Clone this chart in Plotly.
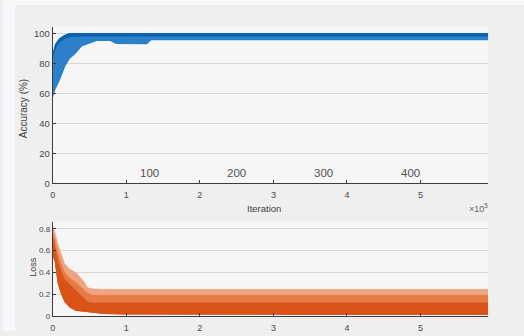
import plotly.graph_objects as go

W, H = 524, 336

# ---------------- data ----------------
# Accuracy envelopes (percent) vs iteration
acc_iter = [0, 4000, 9000, 17000, 23000, 30000, 40000, 50000, 60000, 78000, 86000,
            128000, 134000, 200000, 300000, 400000, 500000, 592000]
acc_upper = [86, 93, 96.5, 99, 100, 100, 100, 100, 100, 100, 100,
             100, 100, 100, 100, 100, 100, 100]
acc_lower = [57, 63, 68, 78, 83, 86, 91.5, 93.5, 95, 95, 93,
             92.8, 95.5, 95.5, 95.5, 95.5, 95.5, 95.5]
acc_core_lower = [84, 90, 94, 96.5, 97.5, 97.8, 98, 98, 98, 98, 98,
                  98, 98, 98, 98, 98, 98, 98]

# Loss envelopes vs iteration
loss_iter = [0, 2700, 6800, 11000, 16000, 23000, 31000, 38000, 43000, 47000, 54000,
             70000, 100000, 200000, 300000, 400000, 500000, 592000]
loss_upper = [0.82, 0.77, 0.66, 0.57, 0.48, 0.43, 0.40, 0.35, 0.31, 0.26, 0.25,
              0.245, 0.245, 0.245, 0.245, 0.245, 0.245, 0.245]
loss_mid = [0.76, 0.70, 0.58, 0.48, 0.40, 0.35, 0.31, 0.27, 0.24, 0.21, 0.19,
            0.19, 0.19, 0.19, 0.19, 0.19, 0.19, 0.19]
loss_core = [0.72, 0.64, 0.50, 0.41, 0.34, 0.29, 0.24, 0.19, 0.16, 0.13, 0.12,
             0.12, 0.12, 0.12, 0.12, 0.12, 0.12, 0.12]
loss_lower = [0.55, 0.50, 0.30, 0.21, 0.13, 0.08, 0.05, 0.045, 0.04, 0.035, 0.03,
              0.02, 0.015, 0.012, 0.012, 0.012, 0.012, 0.012]

# Epoch labels
epoch_iter = [132000, 250000, 368000, 486000]
epoch_text = ["100", "200", "300", "400"]

x_ticks = [0, 100000, 200000, 300000, 400000, 500000]
x_tick_text = ["0", "1", "2", "3", "4", "5"]
acc_ticks = [0, 20, 40, 60, 80, 100]
loss_ticks = [0, 0.2, 0.4, 0.6, 0.8]
loss_tick_text = ["0", "0.2", "0.4", "0.6", "0.8"]

# ---------------- figure ----------------
BLUE_L = "#2c80c9"
BLUE_D = "#0a62ad"
OR_L = "#eea47f"
OR_M = "#e67b45"
OR_D = "#d95319"

fig = go.Figure()

def band(x, lo, hi, color, xa, ya):
    fig.add_trace(go.Scatter(x=x, y=lo, mode="lines", line=dict(width=0, color=color),
                             xaxis=xa, yaxis=ya, showlegend=False, hoverinfo="skip"))
    fig.add_trace(go.Scatter(x=x, y=hi, mode="lines", line=dict(width=0.8, color=color),
                             fill="tonexty", fillcolor=color,
                             xaxis=xa, yaxis=ya, showlegend=False, hoverinfo="skip"))

band(acc_iter, acc_lower, acc_upper, BLUE_L, "x", "y")
band(acc_iter, acc_core_lower, acc_upper, BLUE_D, "x", "y")

band(loss_iter, loss_lower, loss_upper, OR_L, "x2", "y2")
band(loss_iter, loss_lower, loss_mid, OR_M, "x2", "y2")
band(loss_iter, loss_lower, loss_core, OR_D, "x2", "y2")

FONT = "Liberation Sans, Arial, sans-serif"
TICKC = "#4a4a4a"
GRID = "#d6d6d6"
AXC = "#3c3c3c"

xdom = [50 / W, 488 / W]
common_x = dict(range=[0, 592000], tickvals=x_ticks, ticktext=x_tick_text,
                ticks="inside", ticklen=3, tickcolor=AXC, showline=True,
                linecolor=AXC, linewidth=1, showgrid=False, zeroline=False,
                ticklabelstandoff=3,
                tickfont=dict(size=9, color=TICKC, family=FONT), domain=xdom)

fig.update_layout(
    width=W, height=H,
    margin=dict(l=0, r=0, t=0, b=0),
    paper_bgcolor="#efefef",
    plot_bgcolor="#f6f6f6",
    font=dict(family=FONT),
    xaxis=dict(**common_x, anchor="y"),
    yaxis=dict(range=[0, 104.6], tickvals=acc_ticks, ticks="inside", ticklen=3,
               tickcolor=AXC, showline=True, linecolor=AXC, linewidth=1,
               showgrid=True, gridcolor=GRID, gridwidth=1, zeroline=False,
               tickfont=dict(size=9.5, color=TICKC, family=FONT),
               domain=[1 - 186 / H, 1 - 27 / H], anchor="x"),
    xaxis2=dict(**common_x, anchor="y2"),
    yaxis2=dict(range=[0, 0.865], tickvals=loss_ticks, ticktext=loss_tick_text,
                ticks="inside", ticklen=3,
                tickcolor=AXC, showline=True, linecolor=AXC, linewidth=1,
                showgrid=True, gridcolor=GRID, gridwidth=1, zeroline=False,
                tickfont=dict(size=8, color=TICKC, family=FONT),
                domain=[1 - 321 / H, 1 - 225 / H], anchor="x2"),
)

# left light stripe of the window
fig.add_shape(type="rect", xref="paper", yref="paper", x0=0, x1=12 / W, y0=0, y1=1,
              fillcolor="#f6f8fb", line=dict(width=0), layer="below")
fig.add_shape(type="rect", xref="paper", yref="paper", x0=0, x1=1, y0=1 - 5 / H, y1=1,
              fillcolor="#f8f8f8", line=dict(width=0), layer="below")

# epoch labels
for xi, t in zip(epoch_iter, epoch_text):
    fig.add_annotation(x=xi, y=7, xref="x", yref="y", text=t, showarrow=False,
                       font=dict(size=11.5, color="#505050", family=FONT))

def pa(px, py, text, size, color="#404040", angle=0, xanchor="center"):
    fig.add_annotation(x=px / W, y=1 - py / H, xref="paper", yref="paper", text=text,
                       showarrow=False, textangle=angle, xanchor=xanchor, yanchor="middle",
                       font=dict(size=size, color=color, family=FONT))

pa(262, 212, "Iteration", 9.5)
pa(478, 211, "×10<sup>5</sup>", 9, color="#666666")
pa(20, 110, "Accuracy (%)", 10, angle=-90)
pa(30, 271, "Loss", 9, angle=-90)

fig.write_html("out.html", config={"displayModeBar": False},
               post_script="document.body.style.margin='0';document.body.style.overflow='hidden';")
